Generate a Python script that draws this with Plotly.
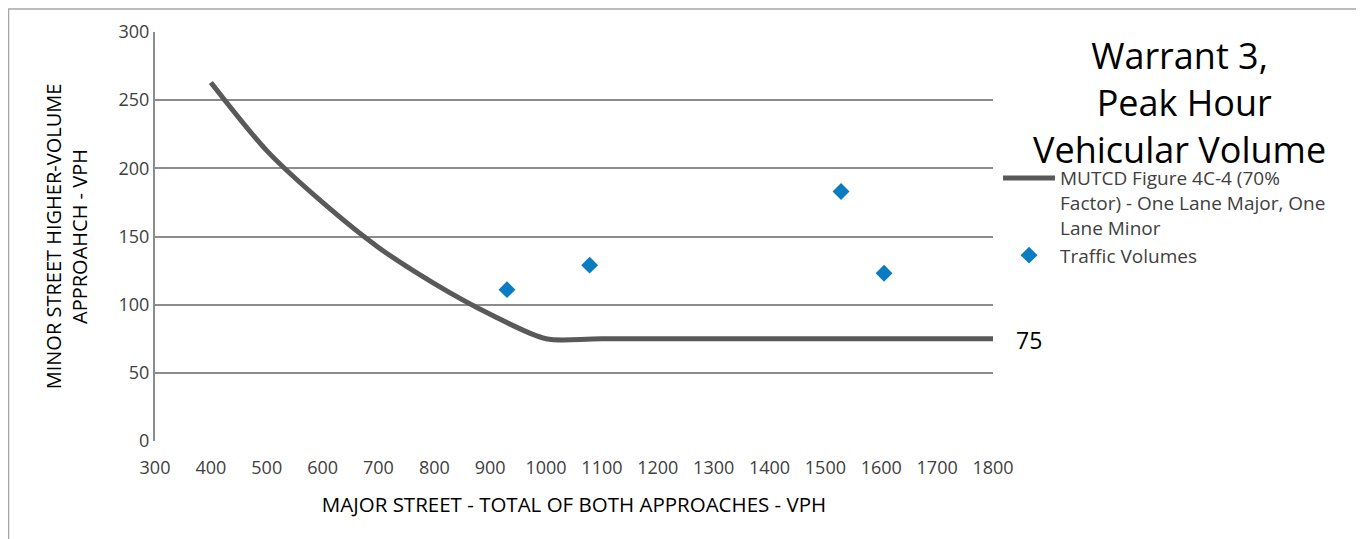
import plotly.graph_objects as go

# ===== chart data =====
major_curve = [400, 500, 600, 700, 800, 900, 1000, 1100, 1800]
minor_curve = [263, 213, 175, 142, 115.5, 93, 75, 75, 75]

major_counts = [930, 1078, 1528, 1605]
minor_counts = [111, 129, 183, 123]

curve_name = "MUTCD Figure 4C-4 (70%<br>Factor) - One Lane Major, One<br>Lane Minor"
points_name = "Traffic Volumes"
threshold_label = "75"

FONT = "Open Sans"

fig = go.Figure()
fig.add_trace(
    go.Scatter(
        x = major_curve,
        y = minor_curve,
        mode = 'lines',
        name = curve_name,
        line = dict(color = '#595959', width = 5, shape = 'spline', smoothing = 0.8)))
fig.add_trace(
    go.Scatter(
        x = major_counts,
        y = minor_counts,
        mode = 'markers',
        name = points_name,
        marker = dict(symbol = 'diamond', size = 13, color = '#0A7DC2')))

# label at the end of the threshold line
fig.add_annotation(
    x = major_curve[-1], y = minor_curve[-1],
    text = threshold_label, showarrow = False,
    xanchor = 'left', xshift = 21, yshift = -1,
    font = dict(family = FONT, size = 23, color = '#000000'))

# light frame round the chart
fig.add_shape(
    type = 'rect', xref = 'paper', yref = 'paper',
    x0 = -0.1748, x1 = 1.5, y0 = -0.3, y1 = 1.056,
    line = dict(color = '#a6a6a6', width = 1.5), layer = 'below')

fig.update_layout(
    width = 1356, height = 531,
    margin = dict(l = 147, r = 371, t = 24, b = 98),
    paper_bgcolor = 'white', plot_bgcolor = 'white',
    font = dict(family = FONT, color = '#404040'),
    title = dict(
        text = "Warrant 3,<br> Peak Hour<br>Vehicular Volume",
        x = 0.864, xanchor = 'center', y = 0.885, yanchor = 'top',
        font = dict(family = FONT, size = 36, color = '#000000')),
    legend = dict(
        x = 1.006, y = 0.689, xanchor = 'left', yanchor = 'top',
        valign = 'top',
        font = dict(family = FONT, size = 19, color = '#404040'),
        bgcolor = 'rgba(0,0,0,0)', itemwidth = 52, tracegroupgap = 0),
    showlegend = True)

fig.update_xaxes(
    range = [300, 1800], dtick = 100, showgrid = False,
    showline = False, zeroline = False, ticks = '',
    ticklabelstandoff = 14,
    tickfont = dict(family = FONT, size = 18, color = '#404040'),
    title = dict(text = "MAJOR STREET - TOTAL OF BOTH APPROACHES - VPH",
                 font = dict(family = FONT, size = 20.5, color = '#000000'),
                 standoff = 19))
fig.update_yaxes(
    range = [0, 300], dtick = 50, showgrid = True,
    gridcolor = '#8c8c8c', gridwidth = 2,
    showline = True, linecolor = '#8c8c8c', linewidth = 2,
    zeroline = False, ticks = '', ticklabelstandoff = 0,
    tickfont = dict(family = FONT, size = 18, color = '#404040'),
    title = dict(text = "MINOR STREET HIGHER-VOLUME<br>APPROAHCH - VPH",
                 font = dict(family = FONT, size = 20, color = '#000000'),
                 standoff = 26))

fig.write_html("out.html")
